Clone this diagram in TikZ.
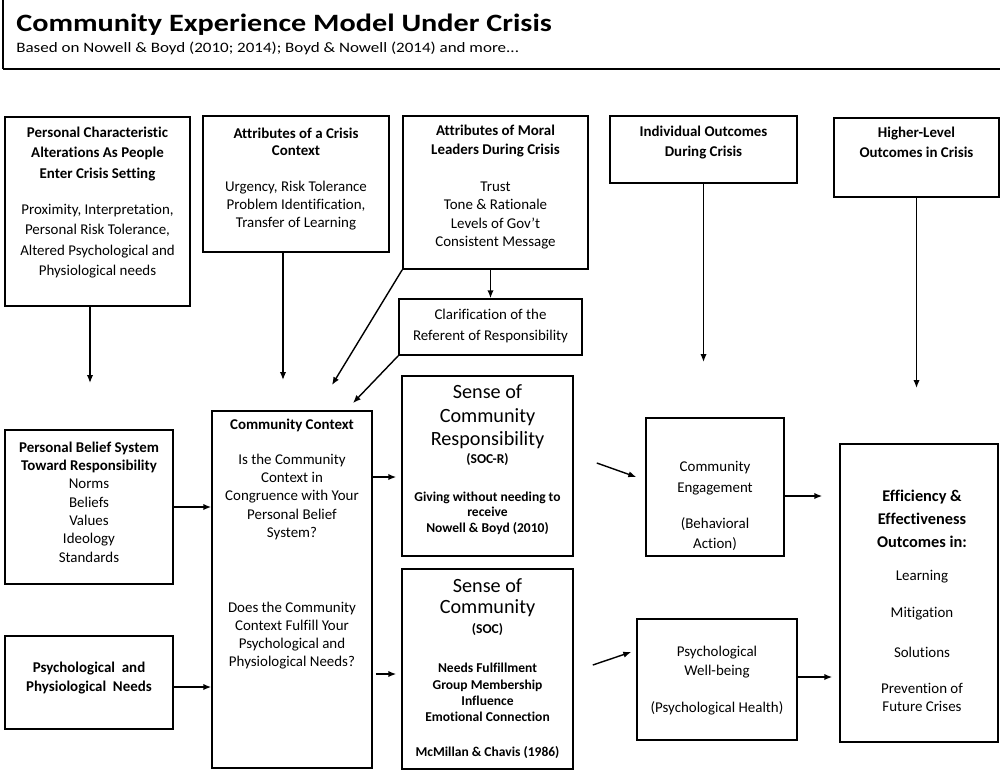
\documentclass[tikz,border=0pt]{standalone}
\usepackage{fontspec}
\usepackage{graphicx}
\setmainfont{Carlito}[Ligatures=NoCommon]
\usetikzlibrary{arrows.meta,fit,calc}
\newcommand{\fsz}[2]{\fontsize{#1pt}{#2pt}\selectfont}
\begin{document}
\begin{tikzpicture}[x=0.02cm,y=-0.02cm,
  box/.style={draw, line width=0.9pt, inner sep=0pt},
  txt/.style={align=center, inner sep=0pt},
  arr/.style={line width=0.8pt, -{Latex[length=4.5pt,width=3.6pt]}},
  hd/.style={txt, font=\bfseries\fsz{8.5}{#1}},
  bd/.style={txt, font=\fsz{8.5}{#1}},
  bs/.style={txt, font=\bfseries\fsz{7.7}{#1}},
  big/.style={txt, font=\fsz{11.5}{#1}},
]
\useasboundingbox (0,0) rectangle (1000,771);

% title frame
\draw[line width=0.9pt] (3,-2) -- (3,69);
\draw[line width=1.6pt] (2.5,69) -- (1002,69);
\node[anchor=base west, inner sep=0pt] (title) at (16,31)
  {\scalebox{1.21}[1]{\bfseries\fsz{14.2}{17}Community Experience Model Under Crisis}};
\node[anchor=base west, inner sep=0pt] (subtitle) at (16,52)
  {\scalebox{1.18}[1]{\fsz{8.2}{10}Based on Nowell \& Boyd (2010; 2014); Boyd \& Nowell (2014) and more...}};

% boxes
\node[box, fit={(5,117) (190,306)}] (A) {};
\node[box, fit={(203,116) (389,252)}] (B) {};
\node[box, fit={(403,116) (588,269)}] (C) {};
\node[box, fit={(399,299) (582,355)}] (D) {};
\node[box, fit={(610,116) (797,183)}] (E) {};
\node[box, fit={(834,118) (999,197)}] (F) {};
\node[box, fit={(212,411) (372,768)}] (G) {};
\node[box, fit={(5,430) (173,584)}] (H) {};
\node[box, fit={(5,636) (173,729)}] (I) {};
\node[box, fit={(402,376) (573,556)}] (J) {};
\node[box, fit={(402,569) (573,769)}] (K) {};
\node[box, fit={(646,418) (784,556)}] (L) {};
\node[box, fit={(637,619) (797,740)}] (M) {};
\node[box, fit={(840,444) (998,742)}] (N) {};

% texts
\node[hd=11.9] (A-h) at (97.5,154) {Personal Characteristic\\Alterations As People\\Enter Crisis Setting};
\node[bd=11.7] (A-b) at (97.5,241) {Proximity, Interpretation,\\Personal Risk Tolerance,\\Altered Psychological and\\Physiological needs};

\node[hd=9.8] (B-h) at (296,141.5) {Attributes of a Crisis\\Context};
\node[bd=10.2] (B-b) at (296,206) {Urgency, Risk Tolerance\\Problem Identification,\\Transfer of Learning};

\node[hd=10.8] (C-h) at (495.5,141.5) {Attributes of Moral\\Leaders During Crisis};
\node[bd=10.4] (C-b) at (495.5,215.5) {Trust\\Tone \& Rationale\\Levels of Gov't\\Consistent Message};

\node[bd=12.5] (D-t) at (490.5,326) {Clarification of the\\Referent of Responsibility};

\node[hd=11.9] (E-t) at (703.5,142.5) {Individual Outcomes\\During Crisis};
\node[hd=11.3] (F-t) at (916.5,142) {Higher-Level\\Outcomes in Crisis};

\node[hd=10] (G-h) at (292,425) {Community Context};
\node[bd=10.5] (G-b1) at (292,497) {Is the Community\\Context in\\Congruence with Your\\Personal Belief\\System?};
\node[bd=10.4] (G-b2) at (292,635.5) {Does the Community\\Context Fulfill Your\\Psychological and\\Physiological Needs?};

\node[bd=10.4] (H-t) at (89,502) {\textbf{Personal Belief System}\\\textbf{Toward Responsibility}\\Norms\\Beliefs\\Values\\Ideology\\Standards};
\node[hd=11.3] (I-t) at (89,678) {Psychological\ \ and\\Physiological\ \ Needs};

\node[big=13.3] (J-h) at (487.5,417) {Sense of\\Community\\Responsibility};
\node[bs=9] (J-s) at (487.5,459) {(SOC-R)};
\node[bs=8.8] (J-b) at (487.5,513) {Giving without needing to\\receive\\Nowell \& Boyd (2010)};

\node[big=11.9] (K-h) at (487.5,597.5) {Sense of\\Community};
\node[bs=9] (K-s) at (487.5,629) {(SOC)};
\node[bs=9.2] (K-b) at (487.5,692.5) {Needs Fulfillment\\Group Membership\\Influence\\Emotional Connection};
\node[bs=9] (K-r) at (487.5,752) {McMillan \& Chavis (1986)};

\node[bd=11.9] (L-h) at (715,478.5) {Community\\Engagement};
\node[bd=11.3] (L-b) at (715,534) {(Behavioral\\Action)};

\node[bd=10.8] (M-h) at (717,662.5) {Psychological\\Well-being};
\node[bd=10] (M-b) at (717,708) {(Psychological Health)};

\node[txt, font=\bfseries\fsz{9.3}{13}] (N-h) at (922,519) {Efficiency \&\\Effectiveness\\Outcomes in:};
\node[bd=10] (N-1) at (922,577) {Learning};
\node[bd=10] (N-2) at (922,614) {Mitigation};
\node[bd=10] (N-3) at (922,652) {Solutions};
\node[bd=10.2] (N-4) at (922,697) {Prevention of\\Future Crises};

% free ends
\coordinate (a1) at (90,383);
\coordinate (b1) at (283,380);
\coordinate (c1) at (332,385);
\coordinate (d1) at (353,403);
\coordinate (e1) at (703.5,362);
\coordinate (f1) at (916.5,388);

% connectors
\draw[arr] (A.south -| a1) -- (a1);
\draw[arr] (B.south -| b1) -- (b1);
\draw[arr] (C.south west) -- (c1);
\draw[arr] (D.south west) -- (d1);
\draw[arr] (D.north |- C.south) -- (D.north);
\draw[arr] (E.south) -- (e1);
\draw[arr] (F.south) -- (f1);
\draw[arr] (H.east) -- (H.east -| G.west);
\draw[arr] ($(I.east)+(0,4.5)$) -- ($(I.east -| G.west)+(0,4.5)$);
\draw[arr] ($(J.west -| G.east)+(0,11)$) -- ($(J.west)+(-5,11)$);
\draw[arr] ($(K.west -| G.east)+(3,5)$) -- ($(K.west)+(-5,5)$);
\draw[arr] ($(J.east)+(23,-3)$) -- ($(L.west)+(-9,-10)$);
\draw[arr] ($(K.east)+(19,-4)$) -- ($(M.west)+(-5,-27.5)$);
\draw[arr] ($(L.east)+(0,9)$) -- ($(L.east -| N.west)+(-17,9)$);
\draw[arr] ($(M.east)+(0,-2.5)$) -- ($(M.east -| N.west)+(-7,-2.5)$);
\end{tikzpicture}
\end{document}
